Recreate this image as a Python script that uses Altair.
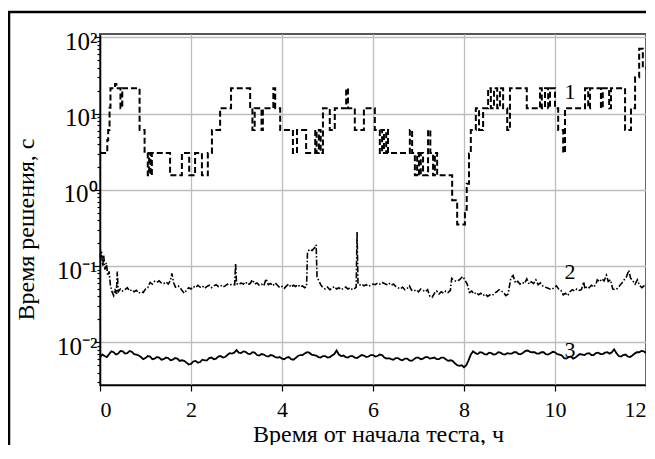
import altair as alt
import pandas as pd

# Series 1 (dashed, step-like)
s1_t = [0.00, 0.13, 0.16, 0.18, 0.21, 0.23, 0.33, 0.36, 0.45, 0.49, 0.87, 0.98, 1.05, 1.08, 1.11, 1.14,
        1.54, 1.80, 1.96, 2.09, 2.24, 2.37, 2.46, 2.64, 2.88, 3.30, 3.35, 3.40, 3.55, 3.58, 3.81, 3.85,
        3.96, 4.24, 4.33, 4.53, 4.73, 4.76, 4.81, 4.85, 4.90, 5.05, 5.16, 5.41, 5.45, 5.60, 5.80, 6.04,
        6.15, 6.20, 6.24, 6.29, 6.33, 6.81, 6.86, 6.92, 6.97, 7.01, 7.05, 7.10, 7.21, 7.26, 7.32, 7.36,
        7.41, 7.74, 7.85, 8.02, 8.06, 8.11, 8.15, 8.26, 8.33, 8.42, 8.53, 8.59, 8.66, 8.73, 8.79, 8.86,
        8.95, 9.01, 9.38, 9.67, 9.71, 9.78, 9.85, 9.89, 10.00, 10.07, 10.18, 10.22, 10.66, 10.73, 10.77,
        11.01, 11.05, 11.19, 11.23, 11.54, 11.67, 11.76, 11.85, 11.93, 12.00]
s1_v = [3.05, 3.05, 4.5, 6.1, 12, 21.5, 24.5, 21.5, 11.8, 21.5, 6.1, 3.05, 1.55, 3.05, 1.55, 3.05,
        1.55, 3.05, 1.55, 3.05, 1.55, 3.05, 6.1, 11.8, 21.5, 11.8, 6.1, 11.8, 6.1, 11.8, 21.5, 11.8,
        6.1, 3.05, 6.1, 3.05, 6.1, 3.05, 6.1, 3.05, 11.8, 6.1, 11.8, 21.5, 11.8, 6.1, 11.8, 6.1,
        3.05, 6.1, 3.05, 6.1, 3.05, 6.1, 3.05, 1.55, 3.05, 1.55, 3.05, 1.55, 6.1, 3.05, 1.55, 3.05,
        1.55, 0.73, 0.35, 0.55, 1.2, 3.0, 6.1, 11.8, 6.1, 11.8, 21.5, 11.8, 21.5, 11.8, 21.5, 11.8,
        6.1, 21.5, 11.8, 21.5, 11.8, 21.5, 11.8, 21.5, 11.8, 6.1, 3.05, 11.8, 21.5, 11.8, 21.5,
        11.8, 21.5, 11.8, 21.5, 6.1, 11.8, 30, 71, 40, 40]

# Series 2 (dash-dot)
s2_t = [0.00, 0.03, 0.06, 0.08, 0.11, 0.14, 0.17, 0.20, 0.23, 0.27, 0.30, 0.33, 0.36, 0.38, 0.40, 0.45,
        0.50, 0.55, 0.60, 0.65, 0.70, 0.75, 0.80, 0.85, 0.90, 0.95, 1.00, 1.05, 1.10, 1.15, 1.20, 1.25,
        1.30, 1.35, 1.40, 1.45, 1.50, 1.55, 1.58, 1.62, 1.66, 1.72, 1.78, 1.85, 1.90, 1.95, 2.00, 2.05,
        2.10, 2.15, 2.20, 2.25, 2.30, 2.35, 2.40, 2.45, 2.50, 2.55, 2.60, 2.65, 2.70, 2.75, 2.80, 2.85,
        2.90, 2.96, 2.98, 3.00, 3.05, 3.10, 3.15, 3.20, 3.25, 3.30, 3.35, 3.40, 3.45, 3.50, 3.55, 3.60,
        3.65, 3.70, 3.75, 3.80, 3.85, 3.90, 3.95, 4.00, 4.05, 4.10, 4.15, 4.20, 4.25, 4.30, 4.35, 4.40,
        4.45, 4.50, 4.54, 4.56, 4.60, 4.66, 4.72, 4.75, 4.77, 4.80, 4.85, 4.90, 4.95, 5.00, 5.05, 5.10,
        5.15, 5.20, 5.25, 5.30, 5.35, 5.40, 5.45, 5.50, 5.55, 5.60, 5.63, 5.65, 5.67, 5.70, 5.75, 5.80,
        5.85, 5.90, 5.95, 6.00, 6.05, 6.10, 6.15, 6.20, 6.25, 6.30, 6.35, 6.40, 6.45, 6.50, 6.55, 6.60,
        6.65, 6.70, 6.75, 6.80, 6.85, 6.90, 6.95, 7.00, 7.05, 7.10, 7.15, 7.20, 7.25, 7.30, 7.35, 7.40,
        7.45, 7.50, 7.55, 7.60, 7.65, 7.70, 7.73, 7.78, 7.83, 7.90, 7.97, 8.02, 8.07, 8.12, 8.17, 8.22,
        8.27, 8.32, 8.37, 8.42, 8.47, 8.52, 8.57, 8.62, 8.67, 8.72, 8.77, 8.82, 8.87, 8.92, 8.97, 9.03,
        9.08, 9.13, 9.18, 9.23, 9.28, 9.33, 9.38, 9.43, 9.48, 9.53, 9.58, 9.63, 9.68, 9.73, 9.78, 9.85,
        9.92, 9.98, 10.03, 10.08, 10.13, 10.18, 10.23, 10.28, 10.33, 10.38, 10.43, 10.48, 10.53, 10.58,
        10.63, 10.66, 10.70, 10.75, 10.80, 10.85, 10.90, 10.93, 10.98, 11.03, 11.08, 11.13, 11.17, 11.22,
        11.27, 11.32, 11.37, 11.42, 11.47, 11.52, 11.57, 11.62, 11.66, 11.71, 11.76, 11.81, 11.86, 11.91,
        11.96, 12.00]
s2_v = [0.13, 0.16, 0.10, 0.14, 0.09, 0.11, 0.075, 0.085, 0.055, 0.045, 0.041, 0.050, 0.043, 0.085, 0.046, 0.050,
        0.047, 0.049, 0.052, 0.047, 0.049, 0.046, 0.048, 0.044, 0.046, 0.045, 0.050, 0.052, 0.061, 0.058, 0.063, 0.061,
        0.064, 0.060, 0.059, 0.062, 0.058, 0.065, 0.080, 0.060, 0.053, 0.055, 0.050, 0.044, 0.048, 0.052, 0.050, 0.054,
        0.052, 0.056, 0.053, 0.055, 0.051, 0.054, 0.056, 0.052, 0.055, 0.057, 0.054, 0.056, 0.053, 0.055, 0.058, 0.056,
        0.058, 0.057, 0.108, 0.059, 0.057, 0.060, 0.058, 0.062, 0.057, 0.059, 0.066, 0.058, 0.060, 0.056, 0.058, 0.055,
        0.068, 0.057, 0.059, 0.055, 0.060, 0.056, 0.052, 0.054, 0.051, 0.055, 0.058, 0.053, 0.056, 0.054, 0.057, 0.053,
        0.055, 0.052, 0.054, 0.150, 0.165, 0.160, 0.175, 0.190, 0.072, 0.066, 0.057, 0.052, 0.050, 0.053, 0.049, 0.051,
        0.054, 0.050, 0.052, 0.049, 0.051, 0.053, 0.050, 0.052, 0.049, 0.051, 0.053, 0.280, 0.060, 0.056, 0.058, 0.055,
        0.057, 0.054, 0.056, 0.058, 0.057, 0.060, 0.058, 0.061, 0.059, 0.057, 0.060, 0.056, 0.058, 0.054, 0.052, 0.050,
        0.053, 0.049, 0.051, 0.055, 0.048, 0.047, 0.049, 0.046, 0.050, 0.048, 0.046, 0.049, 0.040, 0.039, 0.044, 0.047,
        0.043, 0.046, 0.044, 0.047, 0.045, 0.048, 0.069, 0.065, 0.063, 0.066, 0.073, 0.066, 0.058, 0.045, 0.047, 0.043,
        0.045, 0.042, 0.044, 0.041, 0.043, 0.040, 0.042, 0.041, 0.044, 0.046, 0.049, 0.047, 0.045, 0.041, 0.043, 0.070,
        0.075, 0.060, 0.063, 0.058, 0.061, 0.059, 0.068, 0.058, 0.062, 0.059, 0.066, 0.057, 0.060, 0.055, 0.053, 0.051,
        0.049, 0.052, 0.055, 0.050, 0.048, 0.042, 0.044, 0.041, 0.046, 0.049, 0.047, 0.050, 0.048, 0.049,
        0.062, 0.050, 0.054, 0.052, 0.056, 0.053, 0.058, 0.066, 0.062, 0.068, 0.064, 0.076, 0.063, 0.066,
        0.050, 0.049, 0.051, 0.055, 0.060, 0.066, 0.072, 0.088, 0.070, 0.064, 0.058, 0.066, 0.056, 0.052,
        0.055, 0.053]

# Series 3 (solid), sampled every 0.05 h
s3_t = [0.00, 0.05, 0.10, 0.15, 0.20, 0.25, 0.30, 0.35, 0.40, 0.45, 0.50, 0.55, 0.60, 0.65, 0.70, 0.75,
        0.80, 0.85, 0.90, 0.95, 1.00, 1.05, 1.10, 1.15, 1.20, 1.25, 1.30, 1.35, 1.40, 1.45, 1.50, 1.55,
        1.60, 1.65, 1.70, 1.75, 1.80, 1.85, 1.90, 1.95, 2.00, 2.05, 2.10, 2.15, 2.20, 2.25, 2.30, 2.35,
        2.40, 2.45, 2.50, 2.55, 2.60, 2.65, 2.70, 2.75, 2.80, 2.85, 2.90, 2.95, 3.00, 3.05, 3.10, 3.15,
        3.20, 3.25, 3.30, 3.35, 3.40, 3.45, 3.50, 3.55, 3.60, 3.65, 3.70, 3.75, 3.80, 3.85, 3.90, 3.95,
        4.00, 4.05, 4.10, 4.15, 4.20, 4.25, 4.30, 4.35, 4.40, 4.45, 4.50, 4.55, 4.60, 4.65, 4.70, 4.75,
        4.80, 4.85, 4.90, 4.95, 5.00, 5.05, 5.10, 5.15, 5.20, 5.25, 5.30, 5.35, 5.40, 5.45, 5.50, 5.55,
        5.60, 5.65, 5.70, 5.75, 5.80, 5.85, 5.90, 5.95, 6.00, 6.05, 6.10, 6.15, 6.20, 6.25, 6.30, 6.35,
        6.40, 6.45, 6.50, 6.55, 6.60, 6.65, 6.70, 6.75, 6.80, 6.85, 6.90, 6.95, 7.00, 7.05, 7.10, 7.15,
        7.20, 7.25, 7.30, 7.35, 7.40, 7.45, 7.50, 7.55, 7.60, 7.65, 7.70, 7.75, 7.80, 7.85, 7.90, 7.95,
        8.00, 8.05, 8.10, 8.15, 8.20, 8.25, 8.30, 8.35, 8.40, 8.45, 8.50, 8.55, 8.60, 8.65, 8.70, 8.75,
        8.80, 8.85, 8.90, 8.95, 9.00, 9.05, 9.10, 9.15, 9.20, 9.25, 9.30, 9.35, 9.40, 9.45, 9.50, 9.55,
        9.60, 9.65, 9.70, 9.75, 9.80, 9.85, 9.90, 9.95, 10.00, 10.05, 10.10, 10.15, 10.20, 10.25, 10.30,
        10.35, 10.40, 10.45, 10.50, 10.55, 10.60, 10.65, 10.70, 10.75, 10.80, 10.85, 10.90, 10.95, 11.00,
        11.05, 11.10, 11.15, 11.20, 11.25, 11.30, 11.35, 11.40, 11.45, 11.50, 11.55, 11.60, 11.65, 11.70,
        11.75, 11.80, 11.85, 11.90, 11.95, 12.00]
s3_v = [0.0063, 0.0069, 0.0066, 0.0064, 0.0070, 0.0076, 0.0074, 0.0069, 0.0071, 0.0077, 0.0076, 0.0071,
        0.0072, 0.0077, 0.0075, 0.0070, 0.0069, 0.0067, 0.0064, 0.0060, 0.0062, 0.0066, 0.0065, 0.0060,
        0.0061, 0.0064, 0.0063, 0.0059, 0.0060, 0.0063, 0.0062, 0.0058, 0.0059, 0.0062, 0.0061, 0.0057,
        0.0058, 0.0057, 0.0054, 0.0051, 0.0052, 0.0056, 0.0057, 0.0054, 0.0055, 0.0059, 0.0058, 0.0058,
        0.0062, 0.0063, 0.0060, 0.0061, 0.0065, 0.0066, 0.0063, 0.0064, 0.0068, 0.0072, 0.0071, 0.0073,
        0.0079, 0.0073, 0.0072, 0.0076, 0.0075, 0.0071, 0.0070, 0.0074, 0.0073, 0.0068, 0.0067, 0.0070,
        0.0069, 0.0066, 0.0065, 0.0068, 0.0067, 0.0064, 0.0063, 0.0064, 0.0061, 0.0060, 0.0063, 0.0064,
        0.0060, 0.0059, 0.0062, 0.0066, 0.0068, 0.0068, 0.0071, 0.0074, 0.0073, 0.0069, 0.0068, 0.0067,
        0.0064, 0.0063, 0.0066, 0.0066, 0.0063, 0.0064, 0.0067, 0.0070, 0.0078, 0.0069, 0.0066, 0.0067,
        0.0064, 0.0063, 0.0066, 0.0066, 0.0063, 0.0062, 0.0065, 0.0068, 0.0067, 0.0064, 0.0065, 0.0068,
        0.0068, 0.0065, 0.0066, 0.0069, 0.0068, 0.0063, 0.0061, 0.0062, 0.0060, 0.0059, 0.0062, 0.0062,
        0.0059, 0.0058, 0.0061, 0.0061, 0.0058, 0.0057, 0.0060, 0.0063, 0.0063, 0.0060, 0.0061, 0.0064,
        0.0064, 0.0061, 0.0062, 0.0063, 0.0060, 0.0060, 0.0063, 0.0063, 0.0060, 0.0057, 0.0058, 0.0057,
        0.0053, 0.0050, 0.0049, 0.0050, 0.0047, 0.0050, 0.0058, 0.0069, 0.0076, 0.0072, 0.0070, 0.0074,
        0.0073, 0.0070, 0.0069, 0.0073, 0.0072, 0.0069, 0.0070, 0.0074, 0.0073, 0.0070, 0.0069, 0.0072,
        0.0071, 0.0071, 0.0074, 0.0074, 0.0070, 0.0070, 0.0073, 0.0077, 0.0078, 0.0075, 0.0074, 0.0074,
        0.0071, 0.0071, 0.0074, 0.0074, 0.0070, 0.0069, 0.0072, 0.0075, 0.0074, 0.0070, 0.0069, 0.0067,
        0.0062, 0.0061, 0.0064, 0.0065, 0.0061, 0.0063, 0.0067, 0.0070, 0.0069, 0.0068, 0.0071, 0.0072,
        0.0068, 0.0068, 0.0072, 0.0073, 0.0070, 0.0070, 0.0073, 0.0074, 0.0071, 0.0074, 0.0081, 0.0072,
        0.0066, 0.0065, 0.0068, 0.0069, 0.0065, 0.0064, 0.0067, 0.0071, 0.0074, 0.0074, 0.0077, 0.0076,
        0.0072]

# Curve labels
lab_text = ["1", "2", "3"]
lab_t = [10.33, 10.33, 10.33]
lab_v = [19.3, 0.0834, 0.0079]

x_ticks = [0, 2, 4, 6, 8, 10, 12]
y_major = [0.01, 0.1, 1, 10, 100]
y_minor = [0.003, 0.004, 0.005, 0.006, 0.007, 0.008, 0.009,
           0.02, 0.03, 0.04, 0.05, 0.06, 0.07, 0.08, 0.09,
           0.2, 0.3, 0.4, 0.5, 0.6, 0.7, 0.8, 0.9,
           2, 3, 4, 5, 6, 7, 8, 9,
           20, 30, 40, 50, 60, 70, 80, 90]

FONT = "Liberation Serif"

df1 = pd.DataFrame({"t": s1_t, "v": s1_v})
df2 = pd.DataFrame({"t": s2_t, "v": s2_v})
df3 = pd.DataFrame({"t": s3_t, "v": s3_v})
dfl = pd.DataFrame({"t": lab_t, "v": lab_v, "label": lab_text})

is_major = "indexof([0.01, 0.1, 1, 10, 100], datum.value) >= 0"
label_expr = ("datum.value == 100 ? '10²' : datum.value == 10 ? '10¹' : "
              "datum.value == 1 ? '10⁰' : datum.value == 0.1 ? '10⁻¹' : "
              "datum.value == 0.01 ? '10⁻²' : ''")

x_enc = alt.X(
    "t:Q",
    scale=alt.Scale(domain=[0, 12], nice=False, zero=False),
    axis=alt.Axis(values=x_ticks, format="d", grid=True, tickSize=6,
                  labelFontSize=22, labelBaseline="alphabetic", labelPadding=25.5,
                  titleFontSize=24, titleBaseline="alphabetic", titleAlign="center",
                  titleX=278, titleY=56),
    title="Время от начала теста, ч",
)
y_enc = alt.Y(
    "v:Q",
    scale=alt.Scale(type="log", domain=[0.00275, 111], nice=False),
    axis=alt.Axis(values=sorted(y_major + y_minor), labelExpr=label_expr, grid=True,
                  tickSize={"condition": {"test": is_major, "value": 6}, "value": 3},
                  gridOpacity={"condition": {"test": is_major, "value": 1}, "value": 0},
                  labelFontSize=25, labelBaseline="alphabetic", labelOffset=12, labelPadding=-3,
                  titleFontSize=24, titleBaseline="alphabetic", titleAlign="center",
                  titleAngle=270, titleX=-67, titleY=195),
    title="Время решения, с",
)

line1 = alt.Chart(df1).mark_line(interpolate="step-after", color="black", strokeWidth=2,
                                 strokeDash=[6, 3]).encode(x=x_enc, y=y_enc)
line2 = alt.Chart(df2).mark_line(color="black", strokeWidth=1.6,
                                 strokeDash=[6, 2, 1.5, 2]).encode(x="t:Q", y="v:Q")
line3 = alt.Chart(df3).mark_line(color="black", strokeWidth=1.8).encode(x="t:Q", y="v:Q")
labels = alt.Chart(dfl).mark_text(font=FONT, fontSize=22, align="center", baseline="middle",
                                  color="black").encode(x="t:Q", y="v:Q", text="label:N")
frame = alt.Chart(pd.DataFrame({"a": [0]})).mark_rect(
    fillOpacity=0, stroke="black", strokeWidth=2.5
).encode(x=alt.value(-91), x2=alt.value(800), y=alt.value(-22), y2=alt.value(800))

chart = alt.layer(line1, line2, line3, labels, frame).properties(
    width=546, height=351,
    autosize=alt.AutoSizeParams(type="none"),
    padding={"left": 92, "top": 26, "right": 0, "bottom": 60},
).configure_view(
    stroke="#555", strokeWidth=2
).configure_axis(
    labelFont=FONT, titleFont=FONT, titleFontWeight="normal",
    labelColor="black", titleColor="black",
    domainColor="black", domainWidth=1.5, tickColor="black", tickWidth=1.2,
    gridColor="#bdbdbd", gridWidth=1.3,
)

chart.save("out.html", embed_options={"renderer": "svg", "actions": False})
